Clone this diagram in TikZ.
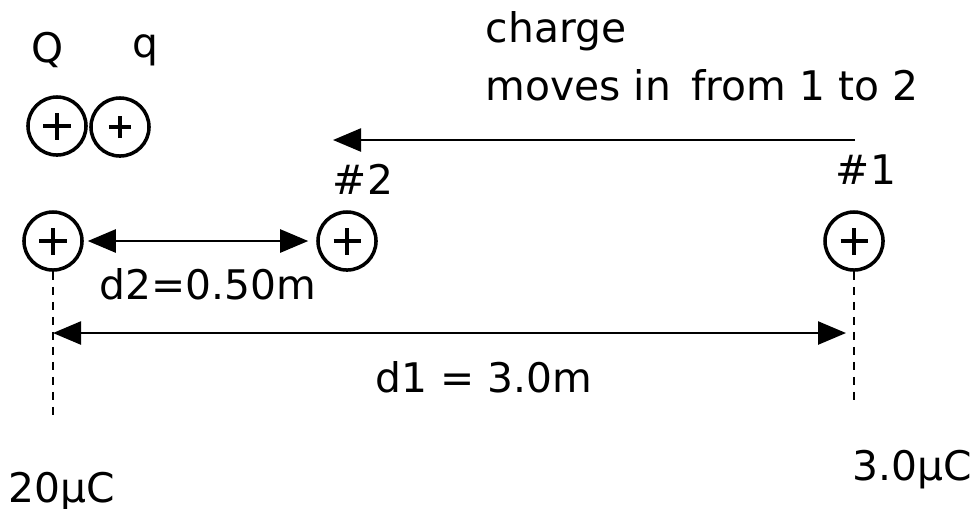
\documentclass[tikz,border=0pt]{standalone}
\usepackage{fontspec}
\setmainfont{DejaVu Sans}
\usetikzlibrary{arrows.meta, positioning}

\begin{document}
\begin{tikzpicture}[x=0.01cm, y=-0.01cm, every node/.style={font=\fontsize{11.6}{14}\selectfont},
    charge/.style={draw, circle, line width=1pt, minimum size=0.58cm, inner sep=0pt,
        path picture={\draw[line width=1pt, shift={(path picture bounding box.center)}] (-#1,0) -- (#1,0) (0,-#1) -- (0,#1);}},
    charge/.default=1.35mm,
    arr/.style={-{Triangle[length=2.8mm, width=2.3mm]}, line width=0.7pt},
    dimarr/.style={{Triangle[length=2.8mm, width=2.3mm]}-{Triangle[length=2.8mm, width=2.3mm]}, line width=0.7pt},
    guide/.style={line width=0.5pt, dash pattern=on 0.08cm off 0.07cm}]
    \useasboundingbox (0,0) rectangle (971,508);
    % charges
    \node[charge] (Qtop) at (57,126) {};
    \node[charge=1.1mm] (qtop) at (120,127) {};
    \node[charge] (Qbot) at (53,241) {};
    \node[charge] (pos2) at (347,241) {};
    \node[charge] (pos1) at (854,241) {};
    % labels
    \node[anchor=base] (Qlabel) at (48,62) {Q};
    \node[anchor=base] (qlabel) at (145,57) {q};
    \node[anchor=base west, inner sep=0pt] (txtcharge) at (485,42) {charge};
    \node[anchor=base west, inner sep=0pt] (txtmoves) at (485,100) {moves in\hspace{0.5em}from 1 to 2};
    \node[anchor=base] (lbl2) at (363,194) {\#2};
    \node[anchor=base] (lbl1) at (866,184) {\#1};
    \node[anchor=base] (d2lbl) at (208,299) {d2=0.50m};
    \node[anchor=base] (d1lbl) at (484,392) {d1 = 3.0m};
    \node[anchor=base] (Qval) at (62,502) {20μC};
    \node[anchor=base] (qval) at (912,480) {3.0μC};
    % connectors
    \coordinate (start) at (855,140);
    \coordinate (stop) at (333,140);
    \coordinate (d1row) at (0,333);
    \coordinate (Qfoot) at (53,420);
    \coordinate (pos1foot) at (854,405);
    \draw[arr] (start) -- (stop);
    \draw[dimarr, shorten <=0.4mm, shorten >=0.8mm] (Qbot) -- (pos2);
    \draw[guide] (Qbot.south) -- (Qfoot);
    \draw[guide] (pos1.south) -- (pos1foot);
    \draw[dimarr, shorten >=0.8mm] (Qbot.south |- d1row) -- (pos1.south |- d1row);
\end{tikzpicture}
\end{document}
